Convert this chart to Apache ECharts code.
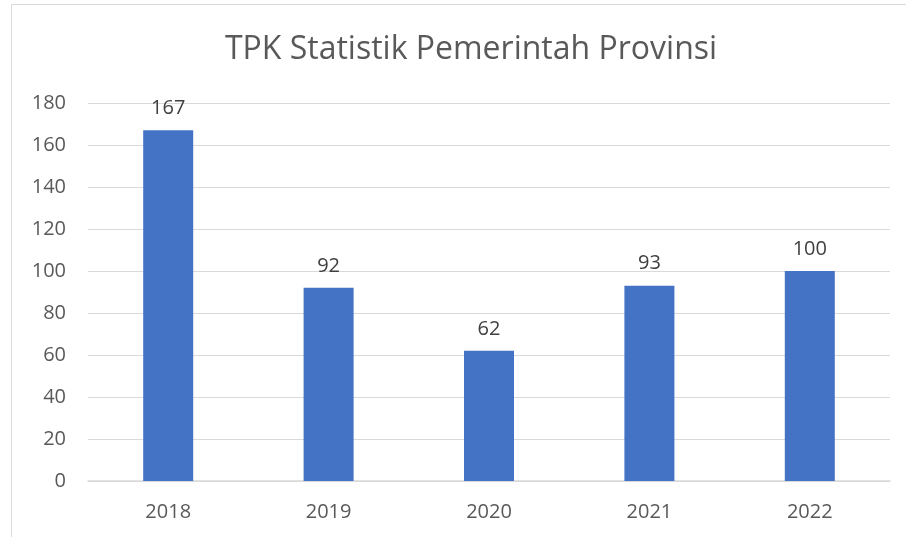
<!DOCTYPE html>
<html>
<head>
<meta charset="utf-8">
<script src="https://cdn.jsdelivr.net/npm/echarts@6/dist/echarts.min.js"></script>
<style>
  html, body { margin: 0; padding: 0; background: #fff; }
  #main { width: 906px; height: 537px; }
</style>
</head>
<body>
<div id="main"></div>
<script>
// data
var years = ["2018", "2019", "2020", "2021", "2022"];
var tpkValues = [167, 92, 62, 93, 100];
var yMin = 0, yMax = 180, yStep = 20;

var chart = echarts.init(document.getElementById("main"));
var font = "'Open Sans', 'Noto Sans', sans-serif";
chart.setOption({
  backgroundColor: "#fff",
  animation: false,
  textStyle: { fontFamily: font },
  title: {
    text: "TPK Statistik Pemerintah Provinsi",
    left: 466,
    textAlign: "center",
    top: 29,
    textStyle: { fontFamily: font, fontSize: 32, fontWeight: "normal", color: "#595959" }
  },
  graphic: [{
    type: "rect",
    shape: { x: 11.5, y: 4.5, width: 1000, height: 1000 },
    style: { fill: "none", stroke: "#d9d9d9", lineWidth: 1 },
    silent: true
  }],
  grid: { left: 88, right: 16, top: 103, bottom: 56 },
  xAxis: {
    type: "category",
    data: years,
    axisLine: { lineStyle: { color: "#d9d9d9", width: 1.5 } },
    axisTick: { show: false },
    axisLabel: { color: "#595959", fontSize: 20, margin: 21, fontFamily: font }
  },
  yAxis: {
    type: "value",
    min: yMin, max: yMax, interval: yStep,
    axisLine: { show: false },
    axisTick: { show: false },
    axisLabel: { color: "#595959", fontSize: 20, margin: 22, fontFamily: font },
    splitLine: { lineStyle: { color: "#d9d9d9", width: 1 } }
  },
  series: [{
    type: "bar",
    data: tpkValues,
    barWidth: 50,
    itemStyle: { color: "#4472c4" },
    label: { show: true, position: "top", distance: 12, color: "#404040", fontSize: 20, fontFamily: font }
  }]
});
</script>
</body>
</html>
